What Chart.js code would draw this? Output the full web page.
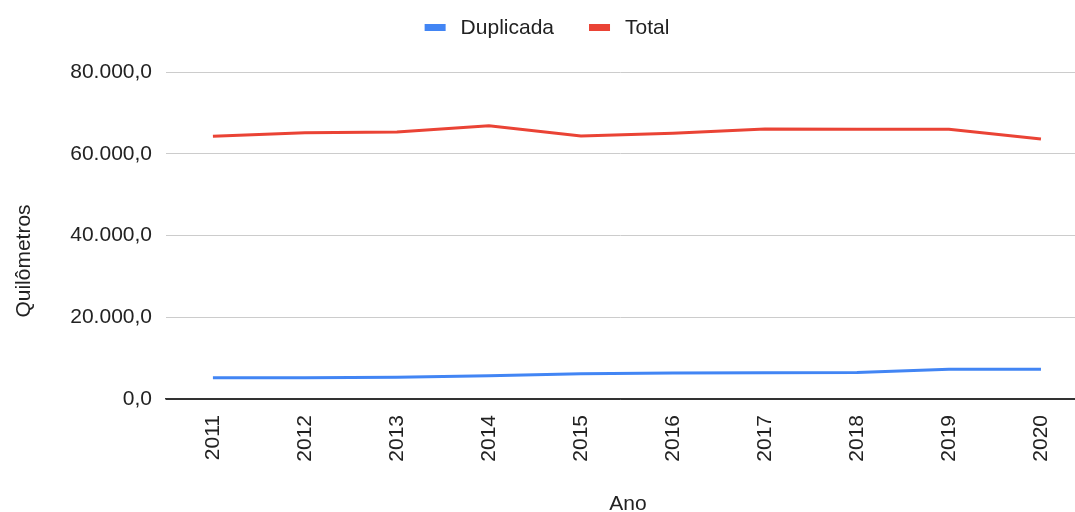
<!DOCTYPE html>
<html>
<head>
<meta charset="utf-8">
<script src="https://cdn.jsdelivr.net/npm/chart.js@4/dist/chart.umd.min.js"></script>
<style>
  html, body { margin: 0; padding: 0; background: #fff; overflow: hidden; }
</style>
</head>
<body>
<canvas id="chart" width="1075" height="512"></canvas>
<script>
// Data
const years = [2011, 2012, 2013, 2014, 2015, 2016, 2017, 2018, 2019, 2020];
const duplicada = [5200, 5200, 5300, 5700, 6200, 6350, 6450, 6500, 7250, 7250];
const total = [64300, 65150, 65350, 66850, 64350, 65000, 66050, 66000, 66000, 63600];
const yTicks = [0, 20000, 40000, 60000, 80000];
const xTitle = 'Ano';
const yTitle = 'Quilômetros';

const FONT = "'Liberation Sans', Arial, sans-serif";
const TEXT = '#222';
Chart.defaults.font.family = FONT;
Chart.defaults.font.size = 21;
Chart.defaults.color = TEXT;

// 80000 -> "80.000,0"
function fmtBR(v) {
    const s = String(Math.round(v)).replace(/\B(?=(\d{3})+(?!\d))/g, '.');
    return s + ',0';
}

const toPoints = arr => arr.map((v, i) => ({ x: years[i], y: v }));

// Google-style legend on top + axis titles placed like the reference
const sheetDecor = {
    id: 'sheetDecor',
    afterDraw(chart) {
        const ctx = chart.ctx;
        ctx.save();
        ctx.font = '21px ' + FONT;
        ctx.fillStyle = TEXT;
        ctx.textBaseline = 'middle';

        // legend
        const items = chart.data.datasets.map(ds => ({ text: ds.label, color: ds.borderColor, w: ctx.measureText(ds.label).width }));
        const box = 21, gapText = 15, gapItem = 35;
        let width = items.reduce((s, it) => s + box + gapText + it.w, 0) + gapItem * (items.length - 1);
        let x = 547 - width / 2;
        items.forEach(it => {
            ctx.fillStyle = it.color;
            ctx.fillRect(x, 24, box, 7);
            ctx.fillStyle = TEXT;
            ctx.textAlign = 'left';
            ctx.fillText(it.text, x + box + gapText, 28);
            x += box + gapText + it.w + gapItem;
        });

        // axis titles
        ctx.textAlign = 'center';
        ctx.fillText(xTitle, 628, 504);
        ctx.translate(24, 261);
        ctx.rotate(-Math.PI / 2);
        ctx.fillText(yTitle, 0, 0);
        ctx.restore();
    }
};

new Chart(document.getElementById('chart'), {
    type: 'line',
    data: {
        datasets: [
            { label: 'Duplicada', data: toPoints(duplicada), borderColor: '#4285f4', backgroundColor: '#4285f4', borderWidth: 3, pointRadius: 0, tension: 0 },
            { label: 'Total', data: toPoints(total), borderColor: '#ea4335', backgroundColor: '#ea4335', borderWidth: 3, pointRadius: 0, tension: 0 }
        ]
    },
    options: {
        responsive: false,
        animation: false,
        layout: { padding: { top: 72, right: 0, bottom: 0, left: 0 } },
        scales: {
            x: {
                type: 'linear',
                min: 2010.49, max: 2020.37,
                afterBuildTicks: axis => { axis.ticks = years.map(v => ({ value: v })); },
                afterFit: axis => { axis.height = 113; },
                grid: { display: false },
                border: { display: true, color: '#333', width: 1.5 },
                ticks: { minRotation: 90, maxRotation: 90, padding: 8, autoSkip: false, callback: v => String(v) }
            },
            y: {
                min: 0, max: 80000,
                afterBuildTicks: axis => { axis.ticks = yTicks.map(v => ({ value: v })); },
                afterFit: axis => { axis.width = 166; },
                grid: { color: ctx => ctx.tick && ctx.tick.value === 0 ? '#333' : '#ccc', drawTicks: false },
                border: { display: false },
                ticks: { padding: 14, callback: v => fmtBR(v) }
            }
        },
        plugins: {
            legend: { display: false },
            tooltip: { enabled: false }
        }
    },
    plugins: [sheetDecor]
});
</script>
</body>
</html>
